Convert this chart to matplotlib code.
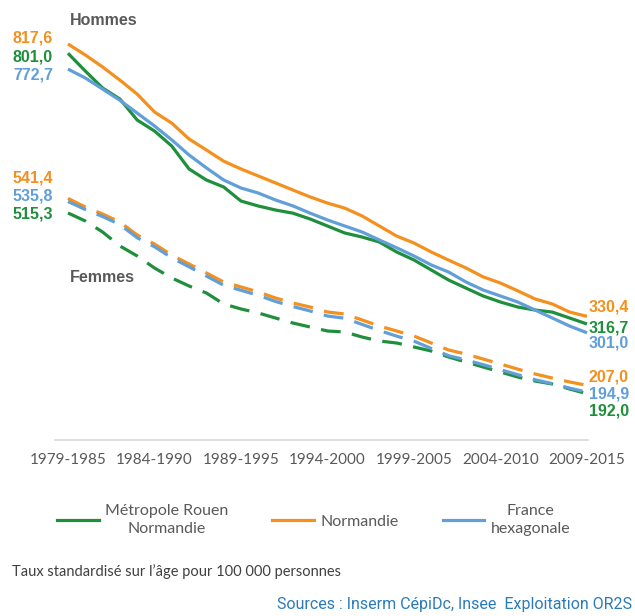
import numpy as np
import matplotlib.pyplot as plt
from matplotlib.lines import Line2D

# sliding 7-year periods, 1979-1985 ... 2009-2015
periods = [f"{y}-{y + 6}" for y in range(1979, 2010)]

# Hommes (taux standardisé pour 100 000)
hommes_rouen = [801.0, 769.3, 738.9, 719.2, 681.6, 662.0, 635.0, 594.0, 574.3, 561.8,
                536.7, 527.8, 520.6, 515.0, 504.5, 492.0, 479.5, 472.3, 463.4, 445.5,
                431.2, 413.3, 395.4, 381.0, 366.8, 356.0, 347.1, 341.7, 338.0, 327.4,
                316.7]
hommes_normandie = [817.6, 798.0, 776.5, 753.0, 728.0, 696.0, 676.0, 647.6, 628.0, 608.0,
                    594.0, 581.5, 569.0, 556.4, 544.0, 533.0, 524.0, 510.0, 492.0, 474.0,
                    461.6, 445.5, 431.0, 417.0, 401.0, 390.0, 376.0, 361.5, 352.5, 338.0,
                    330.4]
hommes_france = [772.7, 756.8, 737.0, 717.0, 694.0, 671.0, 646.0, 619.0, 596.0, 574.3,
                 560.0, 551.0, 538.5, 528.0, 515.0, 502.8, 492.0, 481.3, 467.0, 453.0,
                 438.4, 422.3, 409.7, 392.0, 377.5, 366.8, 356.0, 341.7, 327.4, 313.0,
                 301.0]

# Femmes
femmes_rouen = [515.3, 501.0, 481.3, 456.3, 438.4, 416.9, 399.0, 384.7, 372.2, 352.5,
                343.6, 336.4, 327.4, 318.5, 311.3, 304.2, 302.4, 293.4, 286.3, 282.7,
                275.6, 268.4, 257.7, 248.7, 239.8, 230.8, 221.9, 214.7, 209.3, 200.4,
                192.0]
femmes_normandie = [541.4, 526.0, 513.5, 499.0, 476.0, 459.8, 440.0, 424.0, 408.0, 391.8,
                    383.0, 374.0, 363.2, 354.3, 347.0, 338.2, 334.6, 323.9, 313.1, 304.2,
                    295.2, 282.7, 270.2, 263.0, 254.0, 245.1, 236.0, 227.3, 220.0, 213.0,
                    207.0]
femmes_france = [535.8, 521.5, 509.0, 494.5, 471.0, 455.0, 435.0, 419.0, 402.5, 386.0,
                 377.0, 368.0, 357.0, 348.0, 340.0, 331.0, 327.0, 316.0, 305.0, 295.0,
                 286.0, 273.0, 260.0, 252.5, 244.0, 235.0, 226.0, 217.0, 210.0, 202.0,
                 194.9]

legend_labels = ["Métropole Rouen\nNormandie", "Normandie", "France\nhexagonale"]

GREEN = "#1F8F3C"
ORANGE = "#F4901E"
BLUE = "#619FD8"
GREY = "#595959"

x = np.arange(len(periods))

fig = plt.figure(figsize=(6.35, 6.16), dpi=100)
ax = fig.add_axes([55 / 635, 176 / 616, 533 / 635, 440 / 616])

lw = 2.3
dash = (6.2, 3.6)
series = [
    (hommes_rouen, femmes_rouen, GREEN),
    (hommes_normandie, femmes_normandie, ORANGE),
    (hommes_france, femmes_france, BLUE),
]
for h, f, c in series:
    ax.plot(x, h, color=c, lw=lw, solid_capstyle="butt")
    ax.plot(x, f, color=c, lw=lw, dashes=dash, dash_capstyle="butt")

ax.set_xlim(-0.75, 30.06)
ax.set_ylim(109.2, 896.3)

# end value labels (offsets in pixels to keep them apart)
def fmt(v):
    return f"{v:.1f}".replace(".", ",")

left_labels = [
    (hommes_normandie[0], ORANGE, 6), (hommes_rouen[0], GREEN, -4), (hommes_france[0], BLUE, -6),
    (femmes_normandie[0], ORANGE, 20), (femmes_france[0], BLUE, 6), (femmes_rouen[0], GREEN, -1),
]
right_labels = [
    (hommes_normandie[-1], ORANGE, 9), (hommes_rouen[-1], GREEN, -4), (hommes_france[-1], BLUE, -10),
    (femmes_normandie[-1], ORANGE, 8), (femmes_france[-1], BLUE, -2), (femmes_rouen[-1], GREEN, -17),
]
for v, c, dy in left_labels:
    ax.annotate(fmt(v), (x[0], v), xytext=(-15, dy), textcoords="offset pixels",
                ha="right", va="center", color=c, fontsize=11.5, fontweight="bold",
                family="Liberation Sans", annotation_clip=False)
for v, c, dy in right_labels:
    ax.annotate(fmt(v), (x[-1], v), xytext=(2, dy), textcoords="offset pixels",
                ha="left", va="center", color=c, fontsize=11.5, fontweight="bold",
                family="Liberation Sans", annotation_clip=False)

ax.text(0.1, 860, "Hommes", color=GREY, fontsize=11.5, fontweight="bold",
        family="Liberation Sans", va="center")
ax.text(0.1, 399, "Femmes", color=GREY, fontsize=11.5, fontweight="bold",
        family="Liberation Sans", va="center")

# axes styling: only a light baseline
for side in ["left", "right", "top"]:
    ax.spines[side].set_visible(False)
ax.spines["bottom"].set_color("#D9D9D9")
ax.spines["bottom"].set_linewidth(1.2)
ax.set_yticks([])
ax.set_xticks(x[::5])
ax.set_xticklabels(periods[::5], fontsize=11, color=GREY, family="Lato")
ax.tick_params(axis="x", length=0, pad=9)

handles = [Line2D([0], [0], color=c, lw=lw) for _, _, c in series]
leg = fig.legend(handles, legend_labels, loc="center", bbox_to_anchor=(0.494, 1 - 520 / 616),
                 ncol=3, frameon=False, handlelength=2.6, handletextpad=0.4,
                 columnspacing=2.75, prop={"family": "Lato", "size": 11.5})
for t in leg.get_texts():
    t.set_color(GREY)
    t.set_multialignment("center")
    t.set_linespacing(1.45)

fig.text(12 / 635, 1 - 572 / 616, "Taux standardisé sur l\u2019âge pour 100 000 personnes",
         fontsize=10.5, color="#404040", family="Lato", va="center")
fig.text(632 / 635, 1 - 605 / 616, "Sources : Inserm CépiDc, Insee  Exploitation OR2S",
         fontsize=11.5, color="#2B7BB9", family="Roboto",
         ha="right", va="center")

fig.savefig("out.png", dpi=100)
